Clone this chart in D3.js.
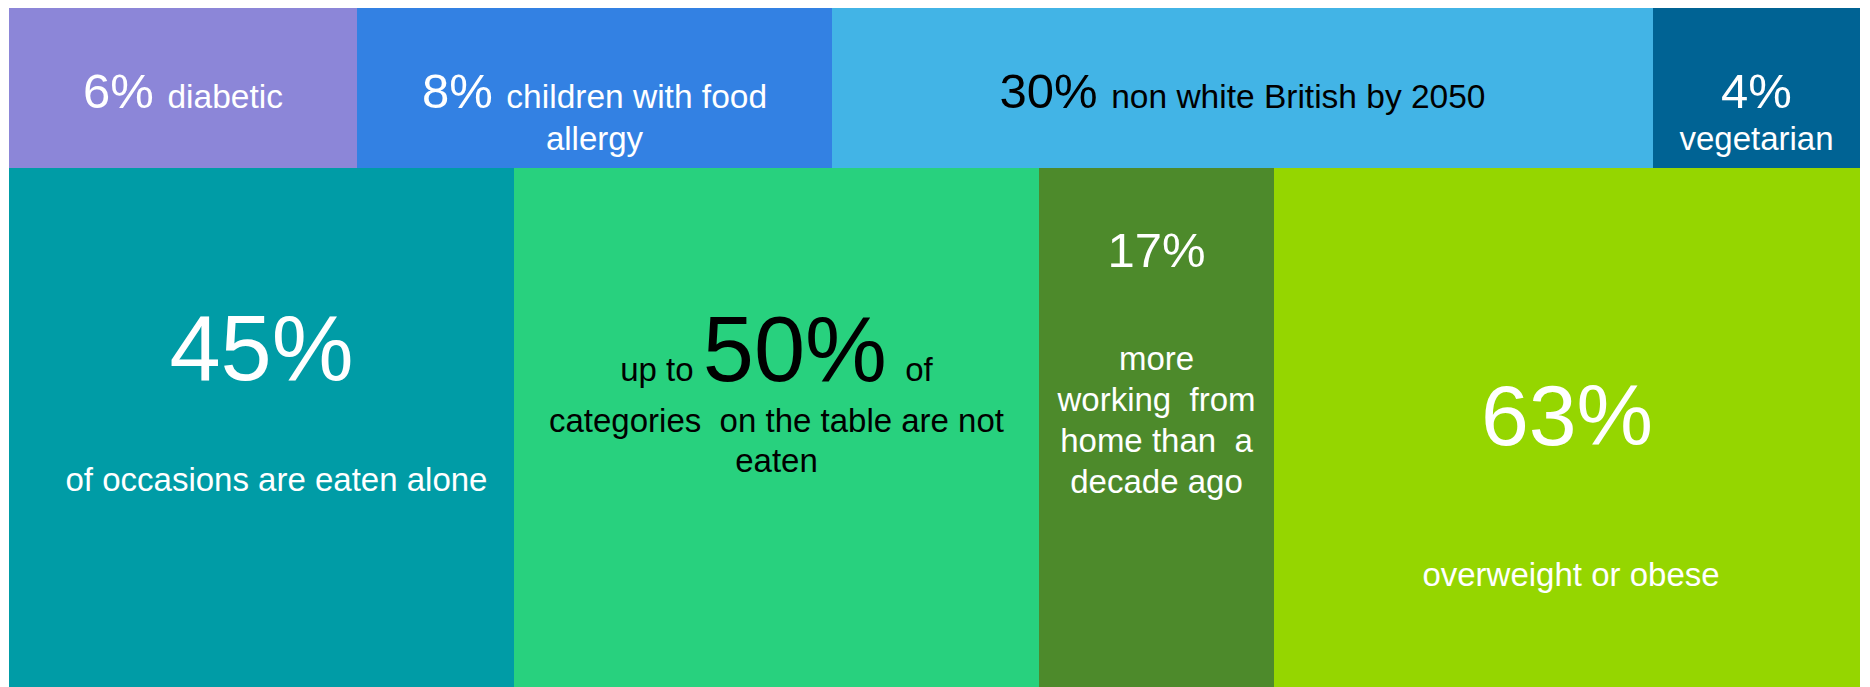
<!DOCTYPE html>
<html>
<head>
<meta charset="UTF-8">
<title>Food facts</title>
<script src="https://cdn.jsdelivr.net/npm/d3@7"></script>
<style>
body { margin: 0; background: #fff; }
text { font-family: "Liberation Sans", Arial, sans-serif; white-space: pre; }
</style>
</head>
<body>
<div id="chart"></div>
<script>
// top row tiles
var topValues   = [6, 8, 30, 4];
var topCaptions = ["diabetic", "children with food|allergy", "non white British by 2050", "|vegetarian"];
var topWeights  = [348, 475, 821, 207];
var topColors   = ["#8c86d8", "#3381e3", "#42b4e6", "#006394"];
var topInk      = ["#fff", "#fff", "#000", "#fff"];

// bottom row tiles
var bottomValues   = [45, 50, 17, 63];
var bottomPrefix   = ["", "up to ", "", ""];
var bottomSuffix   = ["", "  of", "", ""];
var bottomCaptions = ["of occasions are eaten alone", "categories  on the table are not|eaten",
                      "more|working  from|home than  a|decade ago", "overweight or obese"];
var bottomWeights  = [505, 525, 235, 586];
var bottomColors   = ["#009ca6", "#28d17e", "#4d8a2b", "#95d600"];
var bottomInk      = ["#fff", "#000", "#fff", "#fff"];

var W = 1870, H = 687;
var left = 9, right = 1860;
var rows = [{y0: 8, y1: 168}, {y0: 168, y1: 687}];

var svg = d3.select("#chart").append("svg")
  .attr("width", W)
  .attr("height", H);

function tiles(values, weights) {
  var x = d3.scaleLinear().domain([0, d3.sum(weights)]).range([left, right]);
  var ends = d3.cumsum(weights);
  return values.map(function(v, i) {
    return {value: v, x0: x(ends[i] - weights[i]), x1: x(ends[i]), i: i};
  });
}

// top row
var topTiles = tiles(topValues, topWeights);
var gTop = svg.append("g").selectAll("g")
  .data(topTiles).enter().append("g");

gTop.append("rect")
  .attr("x", d => d.x0)
  .attr("y", rows[0].y0)
  .attr("width", d => d.x1 - d.x0)
  .attr("height", rows[0].y1 - rows[0].y0)
  .attr("fill", d => topColors[d.i]);

gTop.each(function(d) {
  var g = d3.select(this);
  var cx = (d.x0 + d.x1) / 2;
  var lines = topCaptions[d.i].split("|");
  var t = g.append("text")
    .attr("x", cx).attr("y", rows[0].y0 + 100)
    .attr("text-anchor", "middle")
    .attr("fill", topInk[d.i]);
  t.append("tspan").attr("font-size", 49).text(d.value + "%" + (lines[0] ? " " : ""));
  if (lines[0]) t.append("tspan").attr("font-size", 33.5).text(lines[0]);
  lines.slice(1).forEach(function(l, k) {
    g.append("text")
      .attr("x", cx).attr("y", rows[0].y0 + 142 + k * 40)
      .attr("text-anchor", "middle")
      .attr("font-size", 33)
      .attr("fill", topInk[d.i])
      .text(l);
  });
});

// bottom row
// baseline of value / first caption line, measured from row top
var valueSize = [92, 92, 49, 86];
var valueY    = [212, 213, 99, 277];
var captionY  = [323, 264, 202, 418];
var captionDx = [15, 0, 0, 4];
var lineGap   = [40, 40, 41, 40];

var bottomTiles = tiles(bottomValues, bottomWeights);
var gBot = svg.append("g").selectAll("g")
  .data(bottomTiles).enter().append("g");

gBot.append("rect")
  .attr("x", d => d.x0)
  .attr("y", rows[1].y0)
  .attr("width", d => d.x1 - d.x0)
  .attr("height", rows[1].y1 - rows[1].y0)
  .attr("fill", d => bottomColors[d.i]);

gBot.each(function(d) {
  var g = d3.select(this);
  var i = d.i;
  var cx = (d.x0 + d.x1) / 2;
  var t = g.append("text")
    .attr("x", cx).attr("y", rows[1].y0 + valueY[i])
    .attr("text-anchor", "middle")
    .attr("fill", bottomInk[i]);
  if (bottomPrefix[i]) t.append("tspan").attr("font-size", 33).text(bottomPrefix[i]);
  t.append("tspan").attr("font-size", valueSize[i]).text(d.value + "%");
  if (bottomSuffix[i]) t.append("tspan").attr("font-size", 33).text(bottomSuffix[i]);

  bottomCaptions[i].split("|").forEach(function(l, k) {
    g.append("text")
      .attr("x", cx + captionDx[i]).attr("y", rows[1].y0 + captionY[i] + k * lineGap[i])
      .attr("text-anchor", "middle")
      .attr("font-size", 33)
      .attr("fill", bottomInk[i])
      .text(l);
  });
});
</script>
</body>
</html>
